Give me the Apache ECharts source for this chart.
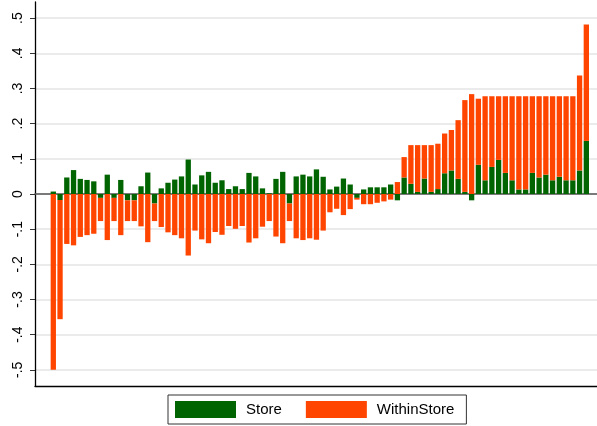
<!DOCTYPE html>
<html><head><meta charset="utf-8">
<script src="https://cdn.jsdelivr.net/npm/echarts@6/dist/echarts.min.js"></script>
<style>html,body{margin:0;padding:0;background:#fff}#c{width:597px;height:426px}</style>
</head><body><div id="c"></div>
<script>
// Series values (stacked with same-sign strategy)
const store = [
  0.007,-0.017,0.047,0.068,0.043,0.040,0.036,-0.011,0.055,-0.011,
  0.040,-0.018,-0.018,0.022,0.061,-0.027,0.016,0.032,0.041,0.050,
  0.098,0.027,0.053,0.063,0.032,0.039,0.014,0.022,0.014,0.060,
  0.050,0.016,0.002,0.043,0.063,-0.027,0.050,0.055,0.050,0.070,
  0.049,0.013,0.021,0.044,0.027,-0.011,0.013,0.019,0.019,0.019,
  0.027,-0.018,0.047,0.029,0.006,0.044,0.006,0.014,0.059,0.067,
  0.043,0.006,-0.018,0.083,0.039,0.077,0.097,0.060,0.039,0.013,
  0.013,0.060,0.047,0.055,0.039,0.049,0.039,0.039,0.067,0.151
];
const withinStore = [
  -0.500,-0.339,-0.142,-0.146,-0.122,-0.117,-0.113,-0.066,-0.131,-0.066,
  -0.117,-0.059,-0.059,-0.092,-0.137,-0.050,-0.094,-0.109,-0.117,-0.126,
  -0.175,-0.104,-0.129,-0.140,-0.108,-0.116,-0.091,-0.099,-0.091,-0.138,
  -0.126,-0.093,-0.077,-0.121,-0.140,-0.050,-0.126,-0.131,-0.126,-0.130,
  -0.104,-0.052,-0.042,-0.060,-0.043,-0.005,-0.029,-0.029,-0.025,-0.021,
  -0.016,0.034,0.058,0.110,0.133,0.095,0.133,0.129,0.113,0.115,
  0.167,0.261,0.284,0.188,0.239,0.201,0.181,0.218,0.239,0.265,
  0.265,0.218,0.231,0.223,0.239,0.229,0.239,0.239,0.270,0.331
];
const seriesNames = ['Store', 'WithinStore'];
const yTickValues = [-0.5,-0.4,-0.3,-0.2,-0.1,0,0.1,0.2,0.3,0.4,0.5];

const categories = store.map((_, i) => String(i + 1));
const FONT = '"Liberation Sans", Arial, sans-serif';
const colors = ['#006400', '#ff4500'];
const Y_MIN = -0.546, Y_MAX = 0.546;

const chart = echarts.init(document.getElementById('c'), null, {renderer: 'canvas'});
const fmt = v => {
  const s = Number(v).toFixed(1);
  if (s === '0.0' || s === '-0.0') return '0';
  return s.replace('0.', '.');
};
chart.setOption({
  animation: false,
  backgroundColor: '#fff',
  color: colors,
  grid: [
    {left: 35, right: 0, top: 2, bottom: 40, containLabel: false},
    {left: 49.93, right: 7.3, top: 2, bottom: 40, containLabel: false}
  ],
  legend: {
    data: seriesNames,
    left: 168, top: 395,
    orient: 'horizontal',
    itemWidth: 61, itemHeight: 17, itemGap: 24,
    icon: 'rect',
    borderColor: '#333', borderWidth: 1, borderRadius: 0,
    padding: [6, 12, 6, 7],
    textStyle: {fontFamily: FONT, fontSize: 15, color: '#000', padding: [0, 0, 0, 5]}
  },
  xAxis: [{
    gridIndex: 0, type: 'value', min: 0, max: 1,
    axisLine: {show: true, onZero: false, lineStyle: {color: '#000', width: 1.3}},
    axisTick: {show: false}, axisLabel: {show: false}, splitLine: {show: false}
  }, {
    gridIndex: 0, type: 'value', position: 'top', min: 0, max: 1,
    axisLine: {show: true, lineStyle: {color: '#555', width: 1.5}},
    axisTick: {show: false}, axisLabel: {show: false}, splitLine: {show: false}
  }, {
    gridIndex: 1, type: 'category', data: categories, boundaryGap: true,
    axisLine: {show: false}, axisTick: {show: false}, axisLabel: {show: false}, splitLine: {show: false}
  }],
  yAxis: [{
    gridIndex: 0, type: 'value', min: Y_MIN, max: Y_MAX,
    axisLine: {show: true, onZero: false, lineStyle: {color: '#000', width: 1.3}},
    axisTick: {show: true, length: 5, customValues: yTickValues, lineStyle: {color: '#333', width: 1}},
    axisLabel: {
      customValues: yTickValues, rotate: 90, margin: 10,
      fontFamily: FONT, fontSize: 14, color: '#000', formatter: fmt
    },
    splitLine: {show: true, lineStyle: {color: '#e4e4e4', width: 1.5}}
  }, {
    gridIndex: 1, type: 'value', min: Y_MIN, max: Y_MAX,
    axisLine: {show: false}, axisTick: {show: false}, axisLabel: {show: false}, splitLine: {show: false}
  }],
  series: seriesNames.map((name, k) => ({
    name, type: 'bar', stack: 'total', barWidth: 5.3,
    xAxisIndex: 2, yAxisIndex: 1,
    data: k === 0 ? store : withinStore,
    itemStyle: {color: colors[k]}
  }))
});
</script>
</body></html>
